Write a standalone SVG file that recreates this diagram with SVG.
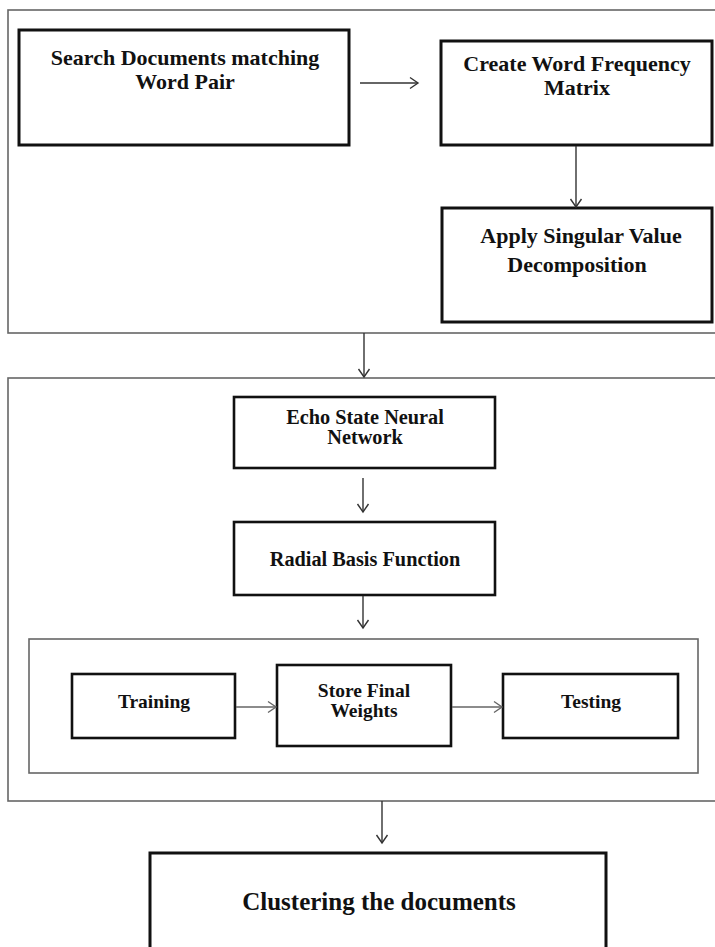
<svg xmlns="http://www.w3.org/2000/svg" width="715" height="947" viewBox="0 0 715 947">
<defs>
<marker id="ah" markerWidth="12" markerHeight="14" refX="9" refY="7" orient="auto" markerUnits="userSpaceOnUse">
<path d="M1,1.5 L9,7 L1,12.5" fill="none" stroke="#333" stroke-width="1.4"/>
</marker>
<marker id="ahg" markerWidth="12" markerHeight="14" refX="9" refY="7" orient="auto" markerUnits="userSpaceOnUse">
<path d="M1,1.5 L9,7 L1,12.5" fill="none" stroke="#666" stroke-width="1.4"/>
</marker>
</defs>
<style>
.grp{fill:none;stroke:#666;stroke-width:1.6}
.box{fill:#fff;stroke:#111;stroke-width:3}
.bx2{fill:#fff;stroke:#111;stroke-width:2.6}
.t{font-family:"Liberation Serif","Times New Roman",serif;font-weight:bold;fill:#111;text-anchor:middle}
.big{font-size:22px}
.mid{font-size:20.3px}
.sm{font-size:19.5px}
.lg{font-size:25px}
.c{fill:none;stroke:#333;stroke-width:1.4;marker-end:url(#ah)}
.cg{fill:none;stroke:#666;stroke-width:1.4;marker-end:url(#ahg)}
</style>
<rect width="715" height="947" fill="#fff"/>
<g id="stage1">
<rect class="grp" x="8" y="10" width="720" height="323"/>
</g>
<g id="stage2">
<rect class="grp" x="8" y="378" width="720" height="423"/>
</g>
<g id="training-group">
<rect class="grp" x="29" y="639" width="669" height="134"/>
</g>
<g id="search">
<rect class="box" x="19" y="30" width="330" height="115"/>
<text class="t big" x="185" y="65">Search Documents matching</text>
<text class="t big" x="185" y="89">Word Pair</text>
</g>
<g id="wfm">
<rect class="box" x="441" y="41" width="271" height="104"/>
<text class="t big" x="577" y="71">Create Word Frequency</text>
<text class="t big" x="577" y="95">Matrix</text>
</g>
<g id="svd">
<rect class="box" x="442" y="208" width="270" height="114"/>
<text class="t big" x="581" y="243">Apply Singular Value</text>
<text class="t big" x="577" y="272">Decomposition</text>
</g>
<g id="esnn">
<rect class="bx2" x="234" y="397" width="261" height="71"/>
<text class="t mid" x="365" y="424">Echo State Neural</text>
<text class="t mid" x="365" y="444">Network</text>
</g>
<g id="rbf">
<rect class="bx2" x="234" y="522" width="261" height="73"/>
<text class="t mid" x="365" y="566">Radial Basis Function</text>
</g>
<g id="train">
<rect class="bx2" x="72" y="674" width="163" height="64"/>
<text class="t sm" x="154" y="708">Training</text>
</g>
<g id="store">
<rect class="bx2" x="277" y="665" width="174" height="81"/>
<text class="t sm" x="364" y="697">Store Final</text>
<text class="t sm" x="364" y="717">Weights</text>
</g>
<g id="test">
<rect class="bx2" x="503" y="674" width="175" height="64"/>
<text class="t sm" x="591" y="708">Testing</text>
</g>
<g id="cluster">
<rect class="box" x="150" y="853" width="456" height="110"/>
<text class="t lg" x="379" y="910">Clustering the documents</text>
</g>
<g id="connectors">
<line class="c" x1="360" y1="83" x2="418" y2="83"/>
<line class="c" x1="576" y1="146" x2="576" y2="207"/>
<line class="c" x1="364" y1="333" x2="364" y2="377"/>
<line class="c" x1="363" y1="478" x2="363" y2="512"/>
<line class="c" x1="363" y1="596" x2="363" y2="628"/>
<line class="cg" x1="236" y1="707" x2="276" y2="707"/>
<line class="cg" x1="452" y1="707" x2="502" y2="707"/>
<line class="c" x1="382" y1="801" x2="382" y2="843"/>
</g>
</svg>
